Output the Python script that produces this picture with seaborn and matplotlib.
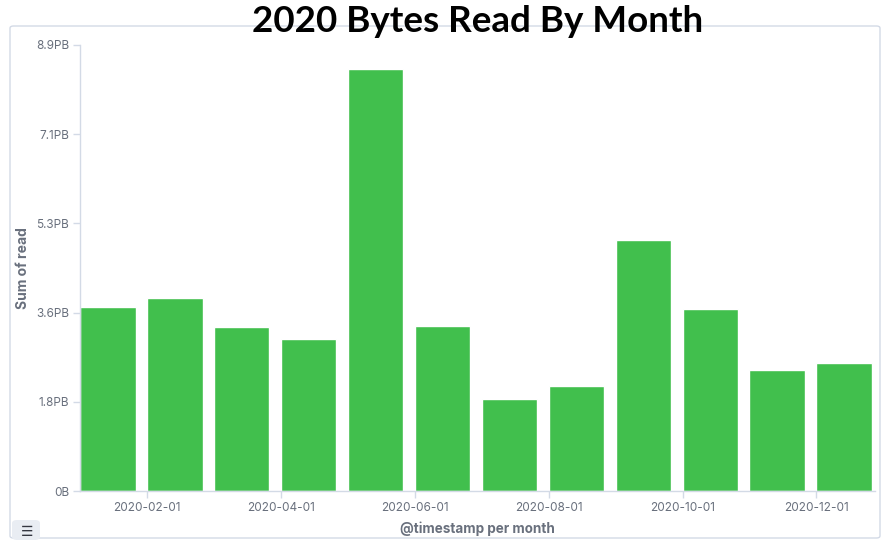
import matplotlib
matplotlib.use("Agg")
import matplotlib.pyplot as plt
import matplotlib.patches as mpatches
import seaborn as sns
import pandas as pd

months = ["2020-01-01", "2020-02-01", "2020-03-01", "2020-04-01", "2020-05-01", "2020-06-01",
          "2020-07-01", "2020-08-01", "2020-09-01", "2020-10-01", "2020-11-01", "2020-12-01"]
read_pb = [3.67, 3.85, 3.27, 3.03, 8.42, 3.29, 1.84, 2.10, 5.01, 3.63, 2.42, 2.55]
ytick_values = [0, 1.78, 3.56, 5.34, 7.12, 8.9]
ytick_labels = ["0B", "1.8PB", "3.6PB", "5.3PB", "7.1PB", "8.9PB"]
xtick_labels = ["2020-02-01", "2020-04-01", "2020-06-01", "2020-08-01", "2020-10-01", "2020-12-01"]

df = pd.DataFrame({"month": months, "read": read_pb})

sns.set_theme(style="white")
plt.rcParams["font.family"] = ["Inter", "DejaVu Sans"]

W, H = 882, 540
fig = plt.figure(figsize=(W / 100, H / 100), dpi=100)
ax = fig.add_axes([80 / W, 49 / H, (875 - 80) / W, (491 - 45) / H])

bar_w = 0.83
sns.barplot(data=df, x="month", y="read", color="#41bf4d", saturation=1,
            width=bar_w, ax=ax, zorder=2)

ax.set_ylim(0, 8.9)
ax.set_xlim(-bar_w / 2, 11.46)
ax.set_yticks(ytick_values)
ax.set_yticklabels(ytick_labels)
xt_pos = [months.index(m) - bar_w / 2 for m in xtick_labels]
ax.set_xticks(xt_pos)
ax.set_xticklabels(xtick_labels)

grey_line = "#d3dae6"
txt = "#69707d"
for s in ["top", "right"]:
    ax.spines[s].set_visible(False)
for s in ["left", "bottom"]:
    ax.spines[s].set_color(grey_line)
    ax.spines[s].set_linewidth(1)
ax.tick_params(axis="both", colors=grey_line, labelcolor=txt, labelsize=8.5,
               length=5, width=1, pad=3, left=True, bottom=True)
ax.set_ylabel("Sum of read", fontsize=10, fontweight="bold", color=txt)
ax.yaxis.set_label_coords(30 / W, 272 / H, transform=fig.transFigure)
ax.set_xlabel("@timestamp per month", fontsize=9.7, fontweight="bold", color=txt, labelpad=5)

# panel border
border = mpatches.FancyBboxPatch((10 / W, 2 / H), (880 - 10) / W, (514 - 2) / H,
                                 boxstyle="round,pad=0,rounding_size=0.004",
                                 transform=fig.transFigure, fill=False,
                                 edgecolor=grey_line, linewidth=1, zorder=0)
fig.patches.append(border)

# legend toggle icon
icon = mpatches.FancyBboxPatch((12 / W, 0 / H), 28 / W, 20 / H,
                               boxstyle="round,pad=0,rounding_size=0.006",
                               transform=fig.transFigure, facecolor="#e9edf3",
                               edgecolor="none", zorder=1)
fig.patches.append(icon)
fig.text(27 / W, 8 / H, "\u2630", ha="center", va="center", fontsize=10,
         color="#343741", family=["DejaVu Sans"])

fig.text(478 / W, 1 - 22 / H, "2020 Bytes Read By Month", ha="center", va="center",
         fontsize=26.5, fontweight="bold", color="black", family=["Lato", "DejaVu Sans"],
         zorder=5)

fig.savefig("out.png", dpi=100, facecolor="white")
